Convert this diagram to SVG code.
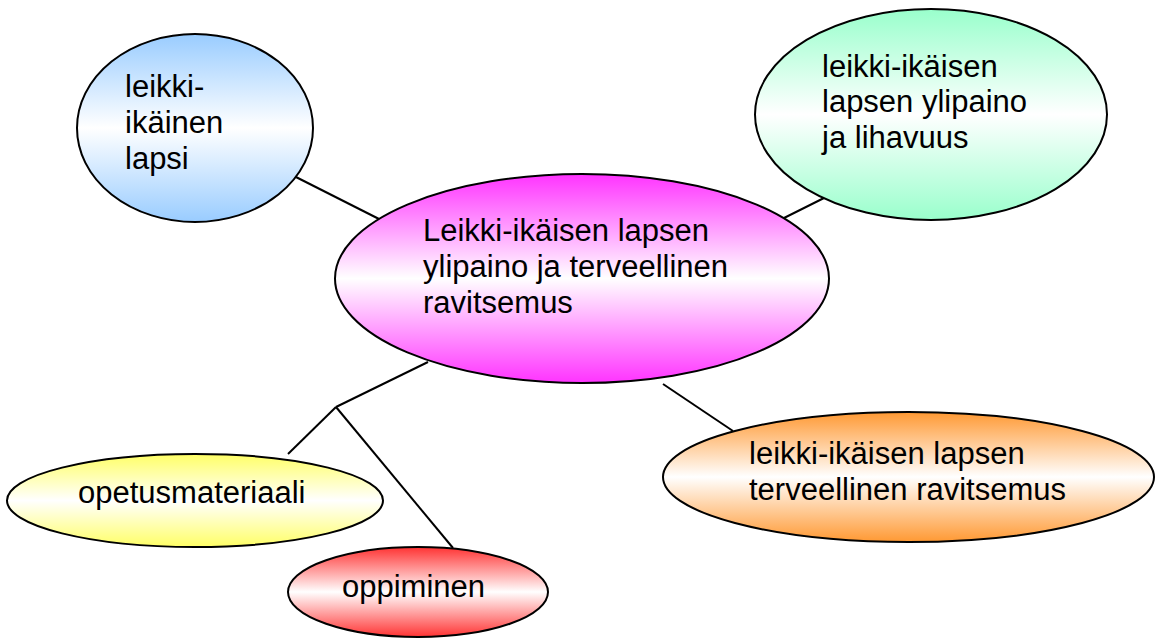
<svg xmlns="http://www.w3.org/2000/svg" width="1159" height="639" viewBox="0 0 1159 639">
<style>
.node ellipse{stroke:#000;stroke-width:2}
.conn line{stroke:#000;stroke-width:2}
text{font-family:"Liberation Sans",Arial,sans-serif;font-size:31px;fill:#000}
</style>
<defs>
<linearGradient id="gBlue" x1="0" y1="0" x2="0" y2="1"><stop offset="0" stop-color="#99ccff"/><stop offset="0.5" stop-color="#ffffff"/><stop offset="1" stop-color="#99ccff"/></linearGradient>
<linearGradient id="gGreen" x1="0" y1="0" x2="0" y2="1"><stop offset="0" stop-color="#99ffcc"/><stop offset="0.5" stop-color="#ffffff"/><stop offset="1" stop-color="#99ffcc"/></linearGradient>
<linearGradient id="gMag" x1="0" y1="0" x2="0" y2="1"><stop offset="0" stop-color="#ff33ff"/><stop offset="0.5" stop-color="#ffffff"/><stop offset="1" stop-color="#ff33ff"/></linearGradient>
<linearGradient id="gOrange" x1="0" y1="0" x2="0" y2="1"><stop offset="0" stop-color="#ff9933"/><stop offset="0.5" stop-color="#ffffff"/><stop offset="1" stop-color="#ff9933"/></linearGradient>
<linearGradient id="gYellow" x1="0" y1="0" x2="0" y2="1"><stop offset="0" stop-color="#ffff66"/><stop offset="0.5" stop-color="#ffffff"/><stop offset="1" stop-color="#ffff66"/></linearGradient>
<linearGradient id="gRed" x1="0" y1="0" x2="0" y2="1"><stop offset="0" stop-color="#ff3333"/><stop offset="0.5" stop-color="#ffffff"/><stop offset="1" stop-color="#ff3333"/></linearGradient>
</defs>
<rect width="1159" height="639" fill="#fff"/>
<g id="connectors" class="conn">
<line x1="288" y1="173" x2="383" y2="221"/>
<line x1="826" y1="197" x2="780" y2="220"/>
<line x1="663" y1="384" x2="733" y2="431"/>
<line x1="428" y1="362" x2="336" y2="407"/>
<line x1="336" y1="407" x2="288" y2="454"/>
<line x1="336" y1="407" x2="453" y2="548"/>
</g>
<g id="node-lapsi" class="node">
<ellipse cx="195" cy="128" rx="118" ry="94" fill="url(#gBlue)"/>
<text x="125" y="97">leikki-</text>
<text x="125" y="133">ikäinen</text>
<text x="125" y="169">lapsi</text>
</g>
<g id="node-ylipaino" class="node">
<ellipse cx="931" cy="114.5" rx="176" ry="105.5" fill="url(#gGreen)"/>
<text x="822" y="77">leikki-ikäisen</text>
<text x="822" y="112">lapsen ylipaino</text>
<text x="822" y="148">ja lihavuus</text>
</g>
<g id="node-center" class="node">
<ellipse cx="582" cy="278.5" rx="247" ry="104.5" fill="url(#gMag)"/>
<text x="423" y="241">Leikki-ikäisen lapsen</text>
<text x="423" y="277">ylipaino ja terveellinen</text>
<text x="423" y="313">ravitsemus</text>
</g>
<g id="node-ravitsemus" class="node">
<ellipse cx="908.5" cy="477" rx="245.5" ry="65" fill="url(#gOrange)"/>
<text x="749" y="464">leikki-ikäisen lapsen</text>
<text x="749" y="500">terveellinen ravitsemus</text>
</g>
<g id="node-opetusmateriaali" class="node">
<ellipse cx="195" cy="500.5" rx="188" ry="46.5" fill="url(#gYellow)"/>
<text x="78" y="503">opetusmateriaali</text>
</g>
<g id="node-oppiminen" class="node">
<ellipse cx="418" cy="592" rx="130" ry="45" fill="url(#gRed)"/>
<text x="342" y="597">oppiminen</text>
</g>
</svg>
